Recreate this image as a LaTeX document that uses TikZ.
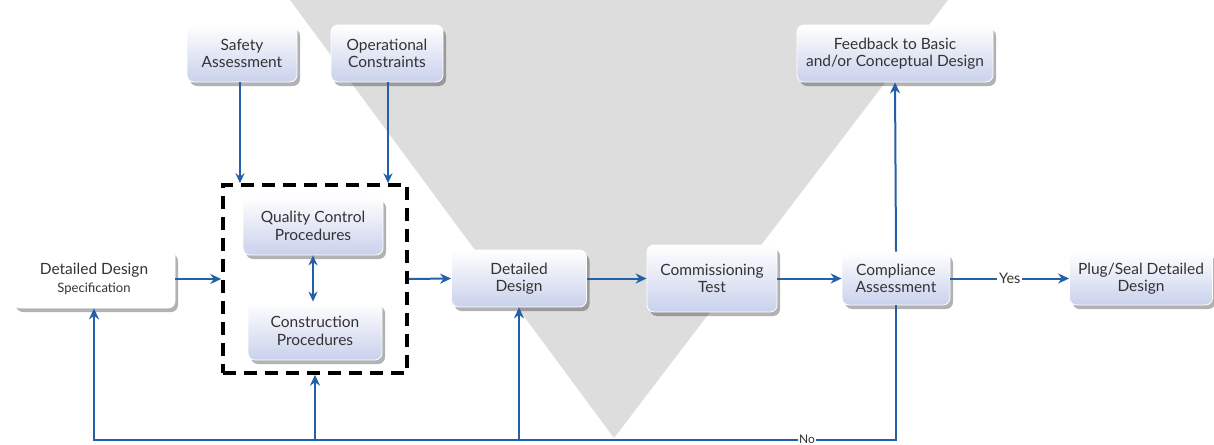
\documentclass[tikz,border=0pt]{standalone}
\usepackage{fontspec}
\setmainfont{Lato}
\usetikzlibrary{arrows.meta,shadows,calc}
\definecolor{flow}{HTML}{2460A7}
\definecolor{tri}{HTML}{DDDDDD}
\definecolor{boxbot}{HTML}{C9D1EC}
\definecolor{txt}{HTML}{333333}
\begin{document}
\begin{tikzpicture}[x=1pt,y=-1pt,
  box/.style={draw=white, line width=0.8pt, rounded corners=7pt,
    top color=white, bottom color=boxbot,
    drop shadow={shadow xshift=3pt,shadow yshift=-4pt,fill=black,opacity=0.3},
    font=\fontsize{15.5}{17.5}\selectfont, text=txt, align=center, inner sep=2pt},
  whitebox/.style={box, top color=white, bottom color=white},
  flowline/.style={draw=flow, line width=2pt, -{Stealth[length=11pt,width=10pt]}},
  thinflow/.style={draw=flow, line width=1.5pt, -{Stealth[length=10pt,width=9pt]}},
  bothflow/.style={draw=flow, line width=2pt, {Stealth[length=10pt,width=9pt]}-{Stealth[length=10pt,width=9pt]}},
  dashbox/.style={draw=black, line width=3.5pt, dash pattern=on 13pt off 8pt},
  lbl/.style={fill=white, inner sep=2pt, text=txt, font=\fontsize{14.5}{16}\selectfont}
]
\useasboundingbox (0,0) rectangle (1214,444);
\fill[white] (0,0) rectangle (1214,444);
\fill[tri] (290,0) -- (948,0) -- (614,438) -- cycle;

% top row
\node[box, minimum width=110, minimum height=57] (safety) at (242,53.5) {Safety\\Assessment};
\node[box, minimum width=112, minimum height=57] (oper) at (387,53.5) {Operational\\Constraints};
\node[box, minimum width=196, minimum height=57] (feed) at (895,53.5) {Feedback to Basic\\and/or Conceptual Design};

% dashed group
\node[dashbox, minimum width=184, minimum height=188, inner sep=0] (grp) at (315,279) {};
\node[box, minimum width=140, minimum height=58] (qc) at (313,226) {Quality Control\\Procedures};
\node[box, minimum width=134, minimum height=58] (cons) at (315,331) {Construction\\Procedures};

% main row
\node[whitebox, minimum width=162, minimum height=58] (spec) at (94,279) {Detailed Design\\{\fontsize{13}{15}\selectfont Specification}};
\node[box, minimum width=135, minimum height=57] (dd) at (519,278.5) {Detailed\\Design};
\node[box, minimum width=130, minimum height=67] (comm) at (712,278.5) {Commissioning\\Test};
\node[box, minimum width=108, minimum height=53] (comp) at (896,278.5) {Compliance\\Assessment};
\node[box, minimum width=143, minimum height=53] (plug) at (1141,278.5) {Plug/Seal Detailed\\Design};

% connectors
\draw[thinflow] (safety.south -| 240,0) -- (240,0 |- grp.north);
\draw[thinflow] (oper.south -| 388,0) -- (388,0 |- grp.north);
\draw[bothflow] (qc.south) -- (qc.south |- cons.north);
\draw[flowline] (spec.east) -- (spec.east -| grp.west);
\draw[flowline] (grp.east) -- (dd.west);
\draw[flowline] (dd.east) -- (comm.west);
\draw[flowline] (comm.east) -- (comp.west);
\draw[flowline] (comp.east) -- node[lbl]{Yes} (plug.west);
\draw[flowline] (comp.north) -- (feed.south);

\coordinate (bl) at (94,440);
\draw[flowline] (comp.south) |- (bl) -- (spec.south);
\draw[flowline] (dd.south |- bl) -- (dd.south);
\draw[flowline] (grp.south |- bl) -- (grp.south);
\node[lbl, anchor=base, inner sep=1pt, font=\fontsize{12}{14}\selectfont] (no) at (807,443) {No};
\end{tikzpicture}
\end{document}
